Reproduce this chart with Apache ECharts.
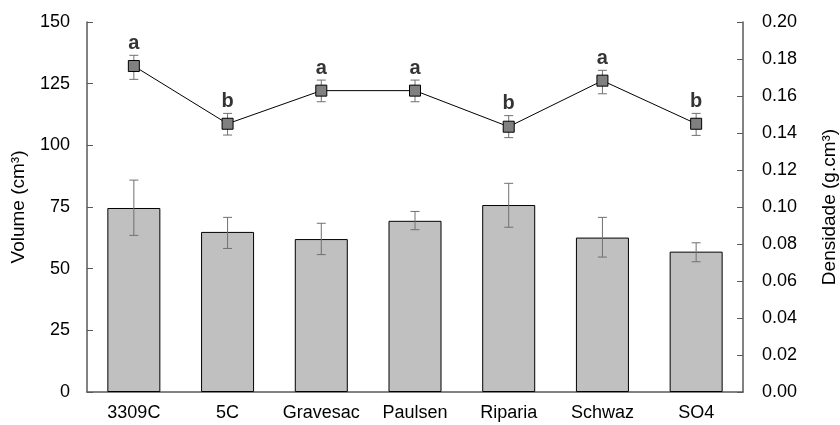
<!DOCTYPE html>
<html><head><meta charset="utf-8">
<script src="https://cdn.jsdelivr.net/npm/echarts@6/dist/echarts.min.js"></script>
<style>html,body{margin:0;padding:0;background:#fff}#c{width:840px;height:425px}</style>
</head><body><div id="c"></div>
<script>
const categories = ['3309C', '5C', 'Gravesac', 'Paulsen', 'Riparia', 'Schwaz', 'SO4'];
const volume = [74.6, 64.9, 62.0, 69.4, 75.8, 62.6, 56.9];
const volumeHi = [85.9, 70.8, 68.4, 73.2, 84.6, 70.8, 60.5];
const volumeLo = [63.5, 58.2, 55.7, 65.8, 66.8, 54.7, 52.8];
const density = [0.1762, 0.1450, 0.1629, 0.1629, 0.1434, 0.1683, 0.1450];
const densityHi = [0.1820, 0.1506, 0.1686, 0.1686, 0.1494, 0.1739, 0.1506];
const densityLo = [0.1690, 0.1389, 0.1569, 0.1569, 0.1375, 0.1612, 0.1387];
const letters = ['a', 'b', 'a', 'a', 'b', 'a', 'b'];
const volumeTicks = [0, 25, 50, 75, 100, 125, 150];
const densityTicks = [0, 0.02, 0.04, 0.06, 0.08, 0.10, 0.12, 0.14, 0.16, 0.18, 0.20];

const FONT = 'Liberation Sans, Arial, sans-serif';
const AXIS = '#595959';

function errRender(color) {
  return function (params, api) {
    const i = api.value(0);
    const hi = api.coord([i, api.value(1)]);
    const lo = api.coord([i, api.value(2)]);
    const w = 4.5;
    const st = { stroke: color, lineWidth: 1 };
    return {
      type: 'group',
      children: [
        { type: 'line', shape: { x1: hi[0], y1: hi[1], x2: lo[0], y2: lo[1] }, style: st },
        { type: 'line', shape: { x1: hi[0] - w, y1: hi[1], x2: hi[0] + w, y2: hi[1] }, style: st },
        { type: 'line', shape: { x1: lo[0] - w, y1: lo[1], x2: lo[0] + w, y2: lo[1] }, style: st }
      ]
    };
  };
}

const chart = echarts.init(document.getElementById('c'), null, { renderer: 'canvas' });
chart.setOption({
  animation: false,
  backgroundColor: '#fff',
  grid: { left: 87, right: 97, top: 22, bottom: 33, containLabel: false, outerBoundsMode: 'none' },
  xAxis: {
    type: 'category',
    data: categories,
    boundaryGap: true,
    axisLine: { lineStyle: { color: AXIS, width: 1.5 } },
    axisTick: { inside: true, length: 5, lineStyle: { color: AXIS } },
    axisLabel: { color: '#000', fontSize: 18, fontFamily: FONT, margin: 12, interval: 0 },
    splitLine: { show: false }
  },
  yAxis: [
    {
      type: 'value', min: volumeTicks[0], max: volumeTicks[volumeTicks.length - 1], interval: 25,
      name: 'Volume (cm³)', nameLocation: 'middle', nameGap: 59,
      nameTextStyle: { color: '#000', fontSize: 19, fontFamily: FONT },
      axisLine: { show: true, lineStyle: { color: AXIS, width: 1.5 } },
      axisTick: { show: true, inside: true, length: 6, lineStyle: { color: AXIS } },
      axisLabel: { color: '#000', fontSize: 18, fontFamily: FONT, margin: 17 },
      splitLine: { show: false }
    },
    {
      type: 'value', min: densityTicks[0], max: densityTicks[densityTicks.length - 1], interval: 0.02,
      name: 'Densidade (g.cm³)', nameLocation: 'middle', nameGap: 77, nameRotate: 90,
      nameTextStyle: { color: '#000', fontSize: 19, fontFamily: FONT },
      axisLine: { show: true, lineStyle: { color: AXIS, width: 1.5 } },
      axisTick: { show: true, inside: true, length: 6, lineStyle: { color: AXIS } },
      axisLabel: { color: '#000', fontSize: 18, fontFamily: FONT, margin: 19, formatter: v => v.toFixed(2) },
      splitLine: { show: false }
    }
  ],
  series: [
    {
      type: 'bar', yAxisIndex: 0, data: volume, barWidth: 53,
      itemStyle: { color: '#c0c0c0', borderColor: '#000', borderWidth: 1 },
      z: 2
    },
    {
      type: 'custom', yAxisIndex: 0,
      data: categories.map((c, i) => [i, volumeHi[i], volumeLo[i]]),
      renderItem: errRender('#707070'),
      z: 3
    },
    {
      type: 'custom', yAxisIndex: 1,
      data: categories.map((c, i) => [i, densityHi[i], densityLo[i]]),
      renderItem: errRender('#707070'),
      z: 4
    },
    {
      type: 'line', yAxisIndex: 1, data: density,
      symbol: 'rect', symbolSize: 11,
      lineStyle: { color: '#000', width: 1 },
      itemStyle: { color: '#808080', borderColor: '#000', borderWidth: 1 },
      z: 5
    },
    {
      type: 'scatter', yAxisIndex: 1,
      data: densityHi.map((v, i) => ({ value: [i, v], name: letters[i] })),
      symbolSize: 0,
      label: {
        show: true, position: 'top', distance: 2, formatter: p => p.name,
        color: '#000', fontSize: 20, fontWeight: 'bold', fontFamily: FONT
      },
      z: 6
    }
  ]
});
</script></body></html>
